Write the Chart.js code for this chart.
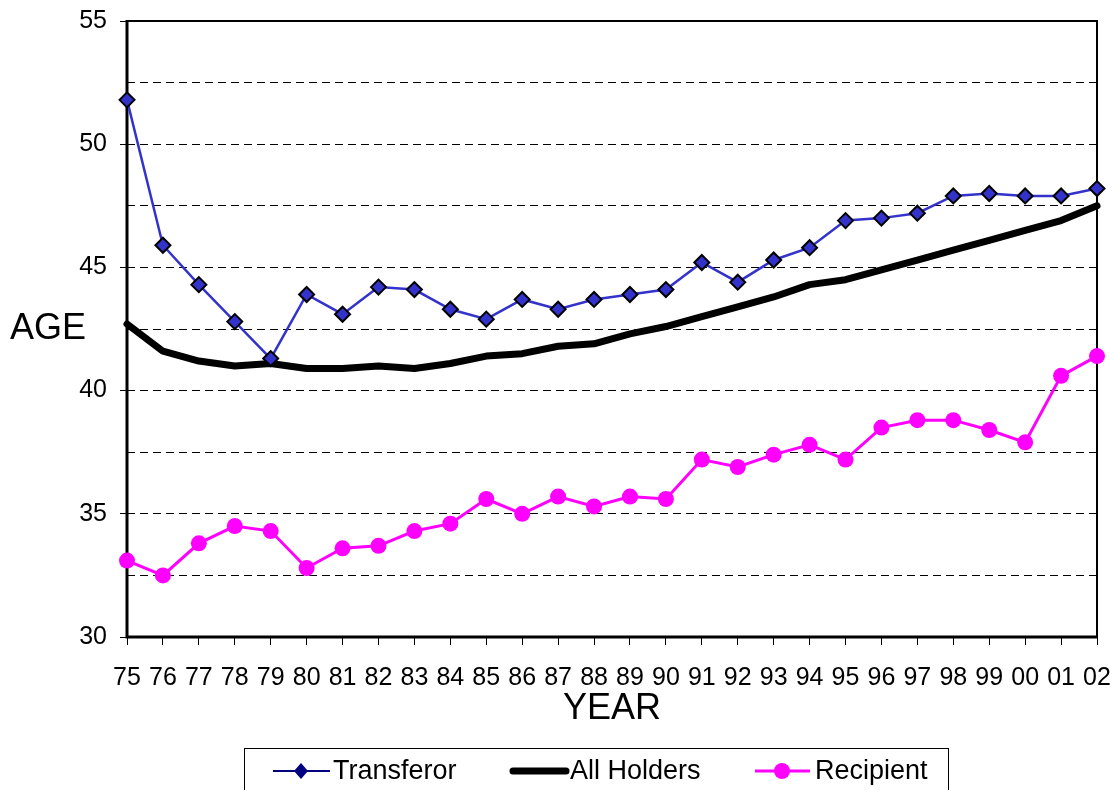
<!DOCTYPE html>
<html>
<head>
<meta charset="utf-8">
<script src="https://cdn.jsdelivr.net/npm/chart.js@4.4.1/dist/chart.umd.min.js"></script>
<style>
  html, body { margin: 0; padding: 0; background: #fff; }
  #wrap { width: 1113px; height: 790px; position: relative; overflow: hidden; }
</style>
</head>
<body>
<div id="wrap"><canvas id="ageChart" width="1113" height="790"></canvas></div>
<script>
// years along the bottom, two digit labels as in the original
const years = ['75', '76', '77', '78', '79', '80', '81', '82', '83', '84', '85', '86', '87', '88',
               '89', '90', '91', '92', '93', '94', '95', '96', '97', '98', '99', '00', '01', '02'];

// average age per year
const transferor = [51.8, 45.9, 44.3, 42.8, 41.3, 43.9, 43.1, 44.2, 44.1, 43.3, 42.9, 43.7, 43.3, 43.7,
                    43.9, 44.1, 45.2, 44.4, 45.3, 45.8, 46.9, 47.0, 47.2, 47.9, 48.0, 47.9, 47.9, 48.2];
const allHolders = [42.7, 41.6, 41.2, 41.0, 41.1, 40.9, 40.9, 41.0, 40.9, 41.1, 41.4, 41.5, 41.8, 41.9,
                    42.3, 42.6, 43.0, 43.4, 43.8, 44.3, 44.5, 44.9, 45.3, 45.7, 46.1, 46.5, 46.9, 47.5];
const recipient = [33.1, 32.5, 33.8, 34.5, 34.3, 32.8, 33.6, 33.7, 34.3, 34.6, 35.6, 35.0, 35.7, 35.3,
                   35.7, 35.6, 37.2, 36.9, 37.4, 37.8, 37.2, 38.5, 38.8, 38.8, 38.4, 37.9, 40.6, 41.4];

const seriesNames = ['Transferor', 'All Holders', 'Recipient'];

const fontFamily = '"Liberation Sans", Arial, sans-serif';
Chart.defaults.font.family = fontFamily;
Chart.defaults.color = '#000';

// frame round the plot, the horizontal AGE label and the boxed legend
const extras = {
  id: 'extras',
  beforeDatasetsDraw(chart) {
    const { ctx, chartArea: a } = chart;
    ctx.save();
    ctx.strokeStyle = '#000';
    ctx.lineWidth = 2;
    ctx.beginPath();
    ctx.moveTo(a.left, a.top);
    ctx.lineTo(a.right, a.top);
    ctx.lineTo(a.right, a.bottom);
    ctx.stroke();
    ctx.lineWidth = 3;
    ctx.beginPath();
    ctx.moveTo(a.left, a.top - 1);
    ctx.lineTo(a.left, a.bottom);
    ctx.lineTo(a.right + 1, a.bottom);
    ctx.stroke();
    ctx.restore();
  },
  afterDraw(chart) {
    const ctx = chart.ctx;
    ctx.save();
    ctx.fillStyle = '#000';
    ctx.font = '36px ' + fontFamily;
    ctx.textBaseline = 'middle';
    ctx.textAlign = 'left';
    ctx.fillText('AGE', 10, 329);

    // legend box
    ctx.strokeStyle = '#000';
    ctx.lineWidth = 1;
    ctx.strokeRect(244.5, 748.5, 704, 60);
    const ly = 771;
    ctx.font = '27px ' + fontFamily;

    // Transferor
    ctx.strokeStyle = '#000080';
    ctx.lineWidth = 2;
    ctx.beginPath();
    ctx.moveTo(273, ly);
    ctx.lineTo(330, ly);
    ctx.stroke();
    ctx.fillStyle = '#000080';
    ctx.beginPath();
    ctx.moveTo(301, ly - 8);
    ctx.lineTo(308, ly);
    ctx.lineTo(301, ly + 8);
    ctx.lineTo(294, ly);
    ctx.closePath();
    ctx.fill();
    ctx.fillStyle = '#000';
    ctx.fillText(seriesNames[0], 333, ly + 1);

    // All Holders
    ctx.strokeStyle = '#000';
    ctx.lineWidth = 7;
    ctx.lineCap = 'round';
    ctx.beginPath();
    ctx.moveTo(513, ly);
    ctx.lineTo(566, ly);
    ctx.stroke();
    ctx.fillText(seriesNames[1], 570, ly + 1);

    // Recipient
    ctx.strokeStyle = '#ff00ff';
    ctx.lineWidth = 3;
    ctx.lineCap = 'butt';
    ctx.beginPath();
    ctx.moveTo(755, ly);
    ctx.lineTo(810, ly);
    ctx.stroke();
    ctx.fillStyle = '#ff00ff';
    ctx.beginPath();
    ctx.arc(782, ly, 8, 0, Math.PI * 2);
    ctx.fill();
    ctx.fillStyle = '#000';
    ctx.fillText(seriesNames[2], 815, ly + 1);
    ctx.restore();
  }
};

const ctx = document.getElementById('ageChart').getContext('2d');
const ageChart = new Chart(ctx, {
  type: 'line',
  data: {
    labels: years,
    datasets: [
      {
        label: seriesNames[0],
        data: transferor,
        borderColor: '#3333cc',
        borderWidth: 2.5,
        pointStyle: 'rectRot',
        pointRadius: 7.5,
        pointBackgroundColor: '#3333cc',
        pointBorderColor: '#000',
        pointBorderWidth: 2,
        tension: 0,
        clip: false
      },
      {
        label: seriesNames[1],
        data: allHolders,
        borderColor: '#000',
        borderWidth: 7,
        pointRadius: 0,
        borderJoinStyle: 'round',
        borderCapStyle: 'round',
        tension: 0,
        clip: false
      },
      {
        label: seriesNames[2],
        data: recipient,
        borderColor: '#ff00ff',
        borderWidth: 3,
        pointStyle: 'circle',
        pointRadius: 8,
        pointBackgroundColor: '#ff00ff',
        pointBorderColor: '#ff00ff',
        pointBorderWidth: 0,
        tension: 0,
        clip: false
      }
    ]
  },
  options: {
    responsive: false,
    animation: false,
    layout: { padding: { top: 21, right: 16, bottom: 53, left: 0 } },
    plugins: {
      legend: { display: false },
      tooltip: { enabled: false }
    },
    scales: {
      x: {
        offset: false,
        afterFit(scale) {
          scale.height = 100;
          scale.paddingLeft = 0;
          scale.paddingRight = 0;
        },
        ticks: {
          autoSkip: false,
          maxRotation: 0,
          padding: 18,
          color: '#000',
          font: { size: 25 }
        },
        grid: {
          drawOnChartArea: false,
          tickLength: 8,
          tickColor: '#000',
          tickWidth: 1
        },
        border: { display: false },
        title: {
          display: true,
          text: 'YEAR',
          color: '#000',
          font: { size: 36 },
          padding: { top: 0, bottom: 6 }
        }
      },
      y: {
        min: 30,
        max: 55,
        afterFit(scale) {
          scale.width = 127;
          scale.paddingTop = 0;
          scale.paddingBottom = 0;
        },
        ticks: {
          stepSize: 2.5,
          padding: 13,
          color: '#000',
          font: { size: 25 },
          callback: v => (v % 5 === 0 ? v : '')
        },
        grid: {
          color: '#000',
          lineWidth: 1,
          tickLength: 7,
          tickWidth: 1,
          tickColor: c => (c.tick && c.tick.value % 5 === 0 ? '#000' : 'rgba(0,0,0,0)')
        },
        border: { display: false, dash: [8, 5] }
      }
    }
  },
  plugins: [extras]
});
</script>
</body>
</html>
